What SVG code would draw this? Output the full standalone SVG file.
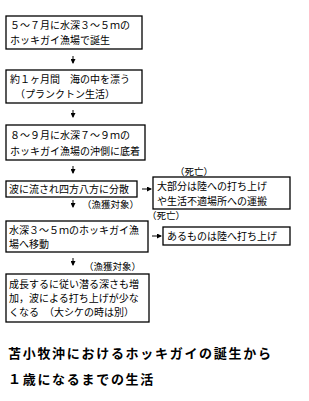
<svg xmlns="http://www.w3.org/2000/svg" width="309" height="401" viewBox="0 0 309 401">
<style>
.box{fill:#fff;stroke:#000;stroke-width:1.3}
.t{font-family:"Noto Sans CJK JP","Noto Sans",sans-serif;font-size:10px;fill:#000}
.lbl{font-family:"Noto Sans CJK JP","Noto Sans",sans-serif;font-size:9.5px;fill:#000}
.title{font-family:"Noto Sans CJK JP","Noto Sans",sans-serif;font-size:13px;font-weight:bold;letter-spacing:1.7px;fill:#000}
.c{stroke:#000;stroke-width:1;fill:none}
</style>
<defs>
<marker id="ah" markerWidth="5" markerHeight="5" refX="4" refY="2.5" orient="auto" markerUnits="userSpaceOnUse">
<path d="M0,0 L5,2.5 L0,5 Z" fill="#000"/>
</marker>
</defs>
<rect width="309" height="401" fill="#fff"/>
<g id="connectors">
<line class="c" x1="73" y1="56" x2="73" y2="63" marker-end="url(#ah)"/>
<line class="c" x1="73" y1="110" x2="73" y2="117" marker-end="url(#ah)"/>
<line class="c" x1="73" y1="166" x2="73" y2="173" marker-end="url(#ah)"/>
<line class="c" x1="142" y1="189" x2="151" y2="189" marker-end="url(#ah)"/>
<line class="c" x1="73" y1="200" x2="73" y2="207" marker-end="url(#ah)"/>
<line class="c" x1="152" y1="236" x2="161" y2="236" marker-end="url(#ah)"/>
<line class="c" x1="73" y1="258" x2="73" y2="265" marker-end="url(#ah)"/>
</g>
<g id="labels">
<text class="lbl" x="175" y="175">（死亡）</text>
<text class="lbl" x="82" y="208">（漁獲対象）</text>
<text class="lbl" x="147" y="219">（死亡）</text>
<text class="lbl" x="84" y="270">（漁獲対象）</text>
</g>
<g id="n1">
<rect class="box" x="6" y="16" width="136" height="33"/>
<text class="t" x="10" y="29">５～７月に水深３～５ｍの</text>
<text class="t" x="10" y="44">ホッキガイ漁場で誕生</text>
</g>
<g id="n2">
<rect class="box" x="6" y="70" width="136" height="33"/>
<text class="t" x="10" y="83">約１ヶ月間　海の中を漂う</text>
<text class="t" x="10" y="98">　（プランクトン生活）</text>
</g>
<g id="n3">
<rect class="box" x="6" y="125" width="139" height="35"/>
<text class="t" x="10" y="139">８～９月に水深７～９ｍの</text>
<text class="t" x="10" y="155">ホッキガイ漁場の沖側に底着</text>
</g>
<g id="n4">
<rect class="box" x="6" y="181" width="131" height="16"/>
<text class="t" x="9" y="193">波に流され四方八方に分散</text>
</g>
<g id="n4r">
<rect class="box" x="153" y="177" width="137" height="32"/>
<text class="t" x="157" y="190">大部分は陸への打ち上げ</text>
<text class="t" x="157" y="205">や生活不適場所への運搬</text>
</g>
<g id="n5">
<rect class="box" x="6" y="221" width="142" height="31"/>
<text class="t" x="9" y="234">水深３～５ｍのホッキガイ漁</text>
<text class="t" x="9" y="248">場へ移動</text>
</g>
<g id="n5r">
<rect class="box" x="163" y="227" width="127" height="18"/>
<text class="t" x="167" y="240">あるものは陸へ打ち上げ</text>
</g>
<g id="n6">
<rect class="box" x="6" y="274" width="143" height="48"/>
<text class="t" x="9" y="288">成長するに従い潜る深さも増</text>
<text class="t" x="9" y="302">加，波による打ち上げが少な</text>
<text class="t" x="9" y="316">くなる　（大シケの時は別）</text>
</g>
<g id="title">
<text class="title" x="8" y="358">苫小牧沖におけるホッキガイの誕生から</text>
<text class="title" x="8" y="384">１歳になるまでの生活</text>
</g>
</svg>
